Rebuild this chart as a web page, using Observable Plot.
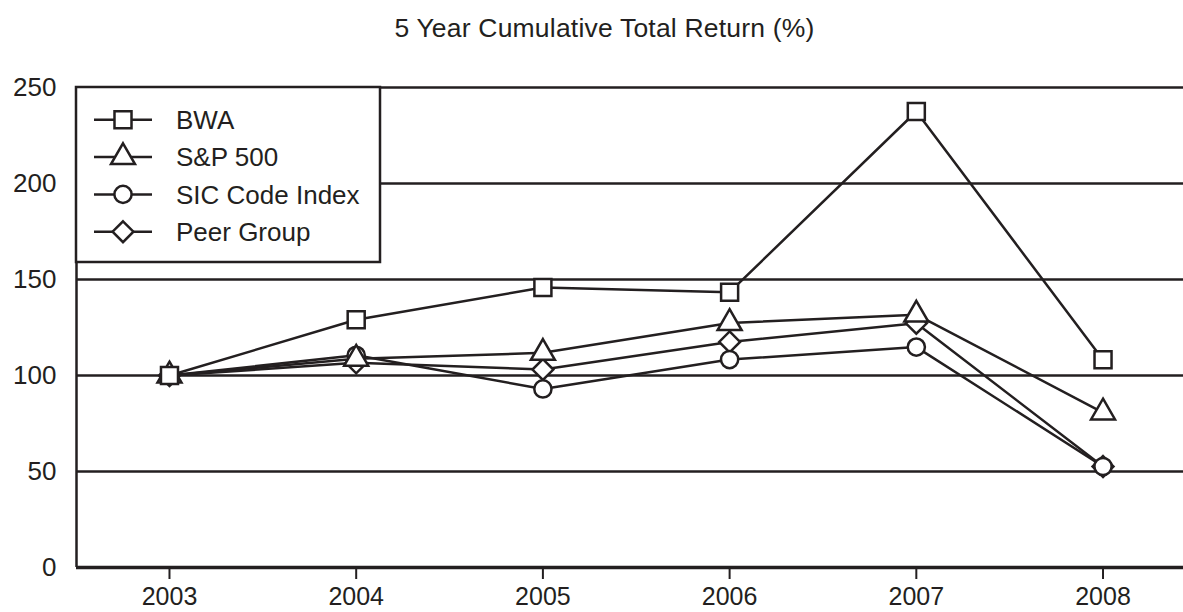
<!DOCTYPE html>
<html>
<head>
<meta charset="utf-8">
<script src="https://cdn.jsdelivr.net/npm/d3@7"></script>
<script src="https://cdn.jsdelivr.net/npm/@observablehq/plot@0.6"></script>
<style>
  html, body { margin: 0; padding: 0; background: #fff; }
  #page { position: relative; width: 1183px; height: 612px; overflow: hidden; font-family: "Liberation Sans", Arial, sans-serif; color: #231f20; }
  #title { height: 70px; box-sizing: border-box; padding-top: 13px; padding-left: 26px; line-height: 30px; font-size: 26.5px; letter-spacing: 0.2px; text-align: center; }
  #legend { position: absolute; left: 74px; top: 85px; }
</style>
</head>
<body>
<div id="page">
  <div id="title">5 Year Cumulative Total Return (%)</div>
  <div id="chart"></div>
</div>
<script>
const years = [2003, 2004, 2005, 2006, 2007, 2008];
const seriesNames = ["BWA", "S&P 500", "SIC Code Index", "Peer Group"];
const bwa = [100, 129, 145.8, 143.4, 237.5, 108.2];
const sp500 = [100, 108.7, 111.8, 127.3, 131.7, 80.7];
const sic = [100, 110.5, 93, 108.3, 114.8, 52.6];
const peer = [100, 106.6, 103.1, 117.5, 127.2, 52.6];
const symbols = ["square", "triangle", "circle", "diamond2"];
const yTicks = [0, 50, 100, 150, 200, 250];
const gridValues = [50, 100, 150, 200, 250];

const ink = "#231f20";
const allValues = [bwa, sp500, sic, peer];
const rows = seriesNames.flatMap((name, i) =>
  years.map((year, j) => ({ series: name, year, value: allValues[i][j] })));

const symbolRadius = { square: 9.6, triangle: 8.9, circle: 8.6, diamond2: 9.4 };
const xDomain = [2002.502, 2008.431];

const dotMarks = seriesNames.map((name, i) => ({ name, sym: symbols[i] })).reverse().map(({ name, sym }) =>
  Plot.dot(rows.filter(d => d.series === name), {
    x: "year", y: "value", symbol: sym, r: symbolRadius[sym],
    fill: "white", stroke: ink, strokeWidth: 2.5
  }));

const chart = Plot.plot({
  width: 1183,
  height: 542,
  marginTop: 17,
  marginBottom: 45,
  marginLeft: 76,
  marginRight: 0,
  x: { type: "linear", domain: xDomain },
  y: { domain: [0, 250] },
  style: { fontFamily: "Liberation Sans, Arial, sans-serif", color: ink, background: "white", overflow: "visible" },
  marks: [
    Plot.ruleY(gridValues, { stroke: ink, strokeWidth: 2.6 }),
    Plot.ruleY([0], { stroke: ink, strokeWidth: 3.5 }),
    Plot.ruleX([xDomain[0]], { y1: 0, y2: 250, stroke: ink, strokeWidth: 2.5 }),
    Plot.line(rows, { x: "year", y: "value", z: "series", stroke: ink, strokeWidth: 2.5 }),
    ...dotMarks,
    Plot.axisY({ ticks: yTicks, tickSize: 0, tickPadding: 20, fontSize: 26, label: null }),
    Plot.axisX({ ticks: years, tickFormat: d => String(d), tickSize: 12, tickPadding: 8, fontSize: 25, strokeWidth: 2, label: null })
  ]
});
document.getElementById("chart").appendChild(chart);

// Legend overlay
const lw = 308, lh = 179;
const legend = d3.select("#page").append("svg")
  .attr("id", "legend").attr("width", lw).attr("height", lh);
legend.append("rect").attr("x", 2).attr("y", 2).attr("width", 304).attr("height", 175)
  .attr("fill", "white").attr("stroke", ink).attr("stroke-width", 2.5);
const d3Sym = { square: d3.symbolSquare, triangle: d3.symbolTriangle, circle: d3.symbolCircle, diamond2: d3.symbolDiamond2 };
seriesNames.forEach((name, i) => {
  const cy = 34.8 + i * 37.3;
  const g = legend.append("g").attr("transform", `translate(0,${cy})`);
  g.append("line").attr("x1", 20).attr("x2", 78).attr("y1", 0).attr("y2", 0)
    .attr("stroke", ink).attr("stroke-width", 2.5);
  const sym = symbols[i];
  const r = symbolRadius[sym];
  g.append("path").attr("transform", "translate(49,0)")
    .attr("d", d3.symbol(d3Sym[sym], Math.PI * r * r)())
    .attr("fill", "white").attr("stroke", ink).attr("stroke-width", 2.5);
  g.append("text").attr("x", 102).attr("y", 0).attr("dy", "0.35em")
    .attr("font-size", 26).attr("fill", ink)
    .attr("font-family", "Liberation Sans, Arial, sans-serif")
    .text(name);
});
</script>
</body>
</html>
